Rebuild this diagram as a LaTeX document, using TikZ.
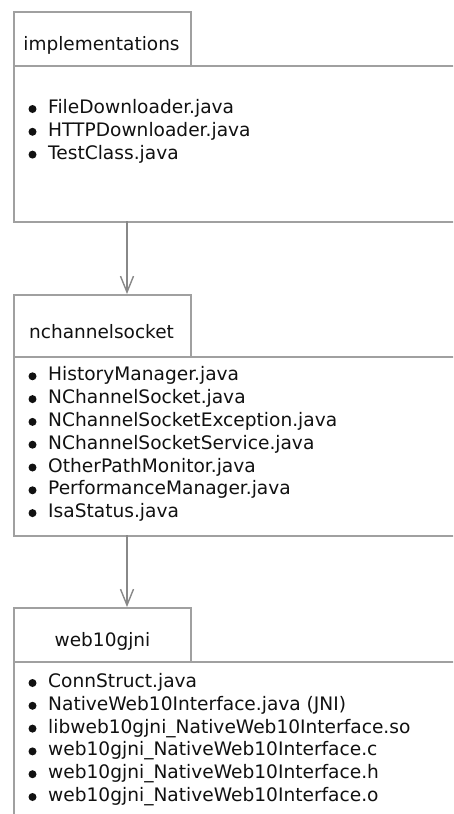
\documentclass[tikz,border=0pt]{standalone}
\usepackage{fontspec}
\setmainfont{DejaVu Sans}
\usetikzlibrary{arrows.meta}
\definecolor{boxgray}{HTML}{A0A0A0}
\definecolor{arrowgray}{HTML}{888888}
\definecolor{inkblack}{HTML}{111111}
\begin{document}
\begin{tikzpicture}[x=1pt,y=-1pt,
  frame/.style={draw=boxgray, line width=1.5pt, inner sep=0pt, anchor=north west},
  tabbox/.style={frame, minimum width=177pt},
  bodybox/.style={frame, minimum width=480pt},
  title/.style={anchor=base, inner sep=0pt, text=inkblack, font=\fontsize{18.5}{22}\selectfont},
  item/.style={anchor=base west, inner sep=0pt, text=inkblack, font=\fontsize{18.6}{22}\selectfont},
  dep/.style={draw=arrowgray, line width=1.4pt, -{Straight Barb[length=16pt,width=13pt]}}]
\useasboundingbox (0,0) rectangle (453,814);
\fill[white] (0,0) rectangle (453,814);
\clip (0,0) rectangle (453,814);

% package: implementations
\node[tabbox, minimum height=54pt] (tab1) at (13,11) {};
\node[bodybox, minimum height=156pt] (body1) at (13,65) {};
\node[title] (title1) at (101.5,50) {implementations};
\foreach \t [count=\i] in {FileDownloader.java, HTTPDownloader.java, TestClass.java} {
  \node[item] (imp-\i) at (48,{113.5+22.8*(\i-1)}) {\t};
  \fill[inkblack] (32.5,{113.5+22.8*(\i-1)-4.5}) circle (4);
}

% package: nchannelsocket
\node[tabbox, minimum height=62pt] (tab2) at (13,294) {};
\node[bodybox, minimum height=179pt] (body2) at (13,356) {};
\node[title] (title2) at (101.5,338) {nchannelsocket};
\foreach \t [count=\i] in {HistoryManager.java, NChannelSocket.java,
    NChannelSocketException.java, NChannelSocketService.java,
    OtherPathMonitor.java, PerformanceManager.java, IsaStatus.java} {
  \node[item] (ncs-\i) at (48,{380.8+22.8*(\i-1)}) {\t};
  \fill[inkblack] (32.5,{380.8+22.8*(\i-1)-4.5}) circle (4);
}

% package: web10gjni
\node[tabbox, minimum height=54pt] (tab3) at (13,607) {};
\node[bodybox, minimum height=240pt] (body3) at (13,661) {};
\node[title] (title3) at (102.5,646.5) {web10gjni};
\foreach \t [count=\i] in {ConnStruct.java, {NativeWeb10Interface.java (JNI)},
    libweb10gjni\_NativeWeb10Interface.so, web10gjni\_NativeWeb10Interface.c,
    web10gjni\_NativeWeb10Interface.h, web10gjni\_NativeWeb10Interface.o} {
  \node[item] (jni-\i) at (48,{687.5+22.8*(\i-1)}) {\t};
  \fill[inkblack] (32.5,{687.5+22.8*(\i-1)-4.5}) circle (4);
}

% dependencies
\coordinate (d1) at (127,221);
\coordinate (d2) at (127,535);
\draw[dep] (d1) -- (d1 |- tab2.north);
\draw[dep] (d2) -- (d2 |- tab3.north);
\end{tikzpicture}
\end{document}
